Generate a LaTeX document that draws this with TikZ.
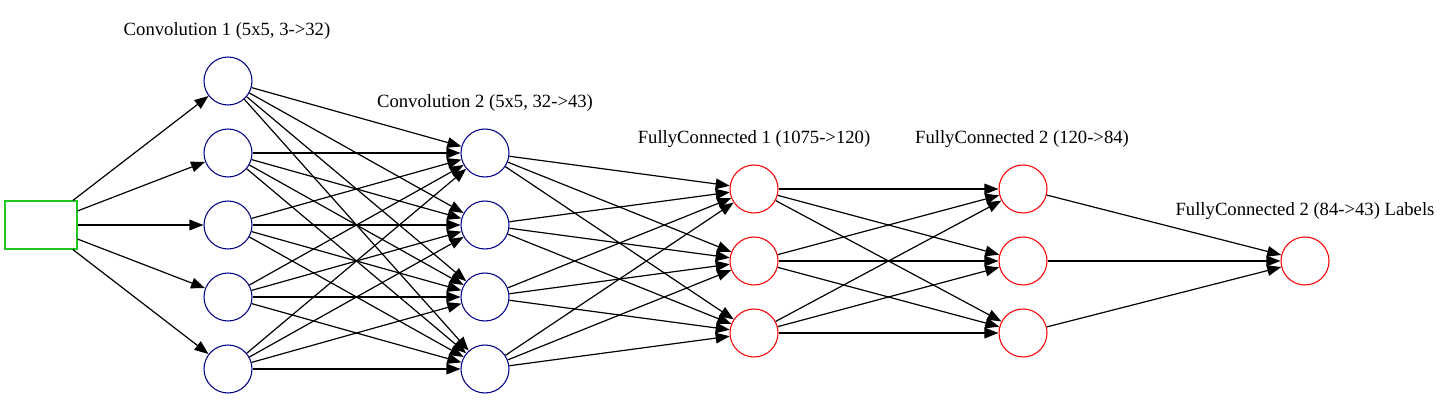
\documentclass[tikz,border=0pt]{standalone}
\usepackage{fontspec}
\setmainfont{Liberation Serif}
\usepackage{tikz}
\usetikzlibrary{arrows.meta}
\definecolor{net-blue}{RGB}{0,0,139}
\definecolor{net-red}{RGB}{255,0,0}
\definecolor{net-green}{RGB}{30,200,30}

\begin{document}
\begin{tikzpicture}[x=0.75pt, y=-0.75pt, every node/.style={font=\fontsize{14}{17}\selectfont},
  conv/.style={circle, draw=net-blue, line width=0.8pt, minimum size=36pt, inner sep=0pt},
  fc/.style={circle, draw=net-red, line width=0.8pt, minimum size=36pt, inner sep=0pt},
  inbox/.style={rectangle, draw=net-green, line width=0.8pt, minimum width=54pt, minimum height=36pt, inner sep=0pt},
  edge/.style={-{Triangle[length=10.5pt,width=8pt]}, line width=0.9pt}]
  \useasboundingbox (0,0) rectangle (1451,420);

  % Input
  \node[inbox] (in) at (41,225) {};

  % Convolution 1
  \foreach \i/\y in {1/81,2/153,3/225,4/297,5/369}
    \node[conv] (ca\i) at (228,\y) {};
  \node[anchor=base] (lca) at (227,36) {Convolution 1 (5x5, 3->32)};

  % Convolution 2
  \foreach \i/\y in {1/153,2/225,3/297,4/369}
    \node[conv] (cb\i) at (485,\y) {};
  \node[anchor=base] (lcb) at (485,108) {Convolution 2 (5x5, 32->43)};

  % FullyConnected 1
  \foreach \i/\y in {1/189,2/261,3/333}
    \node[fc] (fa\i) at (754,\y) {};
  \node[anchor=base] (lfa) at (754,144) {FullyConnected 1 (1075->120)};

  % FullyConnected 2
  \foreach \i/\y in {1/189,2/261,3/333}
    \node[fc] (fb\i) at (1023,\y) {};
  \node[anchor=base] (lfb) at (1022,144) {FullyConnected 2 (120->84)};

  % Labels
  \node[fc] (out) at (1305,261) {};
  \node[anchor=base] (lout) at (1305,216) {FullyConnected 2 (84->43) Labels};

  % Edges
  \foreach \i in {1,...,5}
    \draw[edge] (in) -- (ca\i);
  \foreach \i in {1,...,5}
    \foreach \j in {1,...,4}
      \draw[edge] (ca\i) -- (cb\j);
  \foreach \i in {1,...,4}
    \foreach \j in {1,...,3}
      \draw[edge] (cb\i) -- (fa\j);
  \foreach \i in {1,...,3}
    \foreach \j in {1,...,3}
      \draw[edge] (fa\i) -- (fb\j);
  \foreach \i in {1,...,3}
    \draw[edge] (fb\i) -- (out);
\end{tikzpicture}
\end{document}
